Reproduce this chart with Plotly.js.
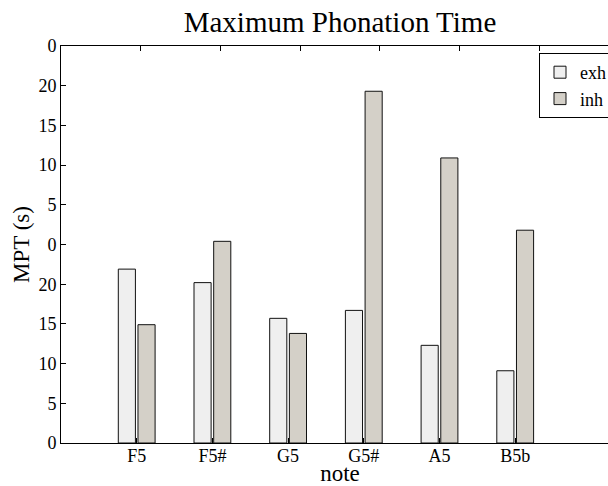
<!DOCTYPE html>
<html>
<head>
<meta charset="utf-8">
<script src="https://cdn.plot.ly/plotly-3.0.1.min.js"></script>
<style>
html, body { margin: 0; padding: 0; overflow: hidden; background: #fff; }
#chart { width: 620px; height: 486px; }
</style>
</head>
<body>
<div id="chart"></div>
<script>
// Data
const notes = ['F5', 'F5#', 'G5', 'G5#', 'A5', 'B5b'];
const exh = [21.9, 20.2, 15.7, 16.7, 12.3, 9.1];
const inh = [14.9, 25.4, 13.8, 44.3, 35.9, 26.8];
const yTickVals = [0, 5, 10, 15, 20, 25, 30, 35, 40, 45, 50];
const yTickText = ['0', '5', '10', '15', '20', '0', '5', '10', '15', '20', '0'];
const seriesNames = ['exh', 'inh'];

const xPos = notes.map((_, i) => i + 1);
const font = 'Liberation Serif, Times New Roman, serif';

const traces = [
  {
    type: 'bar', name: seriesNames[0], x: xPos, y: exh,
    marker: { color: '#efefef', line: { color: '#111', width: 1 } }
  },
  {
    type: 'bar', name: seriesNames[1], x: xPos, y: inh,
    marker: { color: '#d4d0c8', line: { color: '#111', width: 1 } }
  },
  {
    type: 'scatter', x: [0, 7], y: [0, 0], xaxis: 'x2', yaxis: 'y',
    mode: 'lines', line: { width: 0 }, showlegend: false, hoverinfo: 'skip'
  }
];

const layout = {
  width: 620, height: 486,
  margin: { l: 61, r: 1, t: 46, b: 43 },
  paper_bgcolor: '#fff', plot_bgcolor: '#fff',
  font: { family: font, color: '#000', size: 18 },
  barmode: 'group', bargap: 0.48, bargroupgap: 0.13,
  title: {
    text: 'Maximum Phonation Time',
    font: { family: font, size: 29, color: '#000' },
    x: 0.5, xref: 'paper', xanchor: 'center',
    y: 1 - 22 / 486, yref: 'container', yanchor: 'middle'
  },
  xaxis: {
    range: [0, 558 / 75.7],
    tickvals: xPos, ticktext: notes,
    ticks: 'inside', ticklen: 5, tickcolor: '#000', tickwidth: 1,
    showline: true, linecolor: '#000', linewidth: 1,
    showgrid: false, zeroline: false,
    tickfont: { family: font, size: 18 },
    ticklabelstandoff: -4,
    title: { text: 'note', font: { family: font, size: 23 }, standoff: 3 },
    automargin: false
  },
  xaxis2: {
    overlaying: 'x', side: 'top', range: [0, 7], dtick: 1, tick0: 0,
    ticks: 'inside', ticklen: 5, tickcolor: '#000', tickwidth: 1,
    showticklabels: false, showline: true, linecolor: '#000', linewidth: 1,
    showgrid: false, zeroline: false
  },
  yaxis: {
    range: [0, 50],
    tickvals: yTickVals, ticktext: yTickText,
    ticks: 'inside', ticklen: 5, tickcolor: '#000', tickwidth: 1,
    showline: true, linecolor: '#000', linewidth: 1,
    showgrid: false, zeroline: false,
    tickfont: { family: font, size: 18 },
    title: { text: 'MPT (s)', font: { family: font, size: 23 }, standoff: 2 },
    automargin: false
  },
  showlegend: true,
  legend: {
    x: (539 - 61) / 558, xanchor: 'left',
    y: (443 - 53) / 397, yanchor: 'top',
    bordercolor: '#000', borderwidth: 1, bgcolor: '#fff',
    font: { family: font, size: 18 },
    itemwidth: 30, tracegroupgap: 0
  }
};

Plotly.newPlot('chart', traces, layout, { staticPlot: true, displayModeBar: false });
</script>
</body>
</html>
